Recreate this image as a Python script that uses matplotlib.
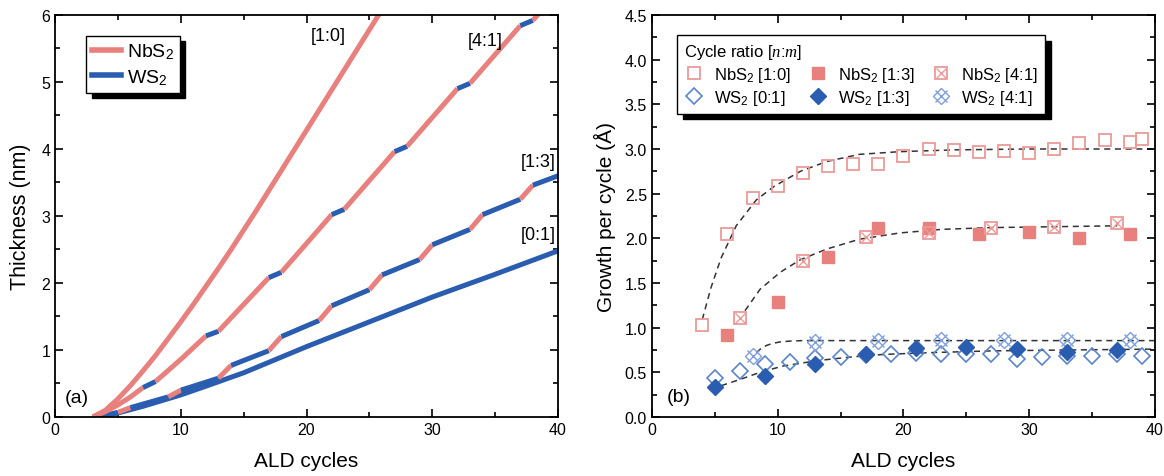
import numpy as np
import matplotlib.pyplot as plt
from matplotlib.ticker import MultipleLocator, FormatStrFormatter
from matplotlib.legend_handler import HandlerTuple
from matplotlib.lines import Line2D

plt.rcParams['font.family'] = ['Liberation Sans', 'DejaVu Sans']
plt.rcParams['mathtext.fontset'] = 'custom'
plt.rcParams['mathtext.rm'] = 'Liberation Sans'
plt.rcParams['mathtext.it'] = 'Liberation Serif:italic'

pink = '#E8807E'
blue = '#2A5CAF'
pink_lt = '#EC9A98'
blue_lt = '#5A84CC'
blue_xx = '#7E9FDA'

# ---- (a) thickness, N = NbS2 cycle, W = WS2 cycle (one letter per segment)
x_10 = [3, 4, 5, 6, 7, 8, 9, 10, 11, 12, 13, 14, 15, 16, 18, 20, 22, 24, 26]
y_10 = [0, 0.1, 0.27, 0.47, 0.69, 0.92, 1.17, 1.42, 1.68, 1.95, 2.22, 2.5, 2.79, 3.08, 3.68, 4.28, 4.88, 5.48, 6.08]
m_10 = 'N' * 18

x_41 = [3, 4, 5, 6, 7, 8, 10, 12, 13, 15, 17, 18, 22, 23, 27, 28, 32, 33, 37, 38, 39]
y_41 = [0, 0.08, 0.18, 0.3, 0.44, 0.53, 0.86, 1.21, 1.28, 1.68, 2.08, 2.16, 3.02, 3.1, 3.96, 4.04, 4.9, 4.98, 5.84, 5.92, 6.13]
m_41 = 'NNNNWNNWNNWNWNWNWNWN'

x_13 = [3.5, 5, 6, 9, 10, 13, 14, 17, 18, 21, 22, 25, 26, 29, 30, 33, 34, 37, 38, 40]
y_13 = [0, 0.07, 0.14, 0.3, 0.4, 0.58, 0.77, 0.99, 1.2, 1.44, 1.66, 1.9, 2.12, 2.35, 2.57, 2.8, 3.02, 3.25, 3.46, 3.6]
m_13 = 'WNWNWNWNWNWNWNWNWNW'

x_01 = [3.5, 5, 7, 10, 12, 15, 20, 25, 30, 35, 40]
y_01 = [0, 0.06, 0.16, 0.33, 0.46, 0.66, 1.05, 1.42, 1.79, 2.13, 2.48]
m_01 = 'W' * 10

# ---- (b) growth per cycle
nb10_x = [4, 6, 8, 10, 12, 14, 16, 18, 20, 22, 24, 26, 28, 30, 32, 34, 36, 38, 39]
nb10_y = [1.03, 2.05, 2.45, 2.59, 2.73, 2.81, 2.83, 2.83, 2.92, 3.0, 2.99, 2.97, 2.98, 2.96, 3.0, 3.07, 3.1, 3.08, 3.11]
nb13_x = [6, 10, 14, 18, 22, 26, 30, 34, 38]
nb13_y = [0.92, 1.29, 1.79, 2.11, 2.12, 2.05, 2.07, 2.0, 2.05]
nb41_x = [7, 12, 17, 22, 27, 32, 37]
nb41_y = [1.11, 1.75, 2.01, 2.06, 2.11, 2.125, 2.17]
w01_x = [5, 7, 9, 11, 13, 15, 17, 19, 21, 23, 25, 27, 29, 31, 33, 35, 37, 39]
w01_y = [0.44, 0.52, 0.59, 0.61, 0.655, 0.67, 0.69, 0.71, 0.72, 0.71, 0.70, 0.71, 0.65, 0.67, 0.68, 0.685, 0.70, 0.685]
w13_x = [5, 9, 13, 17, 21, 25, 29, 33, 37]
w13_y = [0.34, 0.46, 0.59, 0.70, 0.77, 0.78, 0.76, 0.73, 0.75]
w41_x = [8, 13, 18, 23, 28, 33, 38]
w41_y = [0.68, 0.84, 0.85, 0.86, 0.86, 0.86, 0.86]

# dashed fits
fit1_x = [4, 4.7, 5.5, 6.7, 8.3, 9.7, 11.8, 13.9, 16.5, 19.7, 24, 30, 40]
fit1_y = [1.09, 1.45, 1.78, 2.14, 2.43, 2.58, 2.75, 2.86, 2.94, 2.97, 2.99, 3.0, 3.0]
fit2_x = [7.4, 8.6, 10.2, 11.8, 13.9, 16.5, 19.7, 23, 27, 32, 37]
fit2_y = [1.19, 1.43, 1.62, 1.76, 1.88, 1.99, 2.06, 2.1, 2.12, 2.13, 2.14]
fit3_x = [8.3, 8.7, 9.1, 9.6, 10.2, 11, 12, 40]
fit3_y = [0.72, 0.77, 0.80, 0.825, 0.84, 0.85, 0.855, 0.855]
fit4_x = [5.5, 7.0, 8.6, 10.4, 13.1, 15.7, 18.4, 22, 27, 33, 40]
fit4_y = [0.35, 0.42, 0.5, 0.57, 0.63, 0.67, 0.70, 0.72, 0.74, 0.75, 0.76]


def draw_curve(ax, xs, ys, mats):
    i = 0
    while i < len(mats):
        j = i
        while j < len(mats) and mats[j] == mats[i]:
            j += 1
        c = pink if mats[i] == 'N' else blue
        ax.plot(xs[i:j + 1], ys[i:j + 1], color=c, lw=3.6,
                solid_capstyle='butt', solid_joinstyle='round')
        i = j


def style_axes(ax):
    ax.tick_params(which='both', direction='in', top=True, right=True,
                   labelsize=11.5, width=1.2)
    ax.tick_params(which='major', length=6)
    ax.tick_params(which='minor', length=3.5)
    for s in ax.spines.values():
        s.set_linewidth(1.3)
    ax.xaxis.set_major_locator(MultipleLocator(10))
    ax.xaxis.set_minor_locator(MultipleLocator(5))


fig = plt.figure(figsize=(11.64, 4.77), dpi=100)
ax1 = fig.add_axes([0.0473, 0.1237, 0.4321, 0.8428])
ax2 = fig.add_axes([0.5601, 0.1237, 0.4321, 0.8428])

# ---------- (a)
draw_curve(ax1, x_01, y_01, m_01)
draw_curve(ax1, x_13, y_13, m_13)
draw_curve(ax1, x_41, y_41, m_41)
draw_curve(ax1, x_10, y_10, m_10)
ax1.set_xlim(0, 40)
ax1.set_ylim(0, 6)
style_axes(ax1)
ax1.yaxis.set_major_locator(MultipleLocator(1))
ax1.yaxis.set_minor_locator(MultipleLocator(0.5))
ax1.set_xlabel('ALD cycles', fontsize=15, labelpad=10)
ax1.set_ylabel('Thickness (nm)', fontsize=15.5, labelpad=7)
ax1.text(0.8, 0.22, '(a)', fontsize=14)
ax1.text(23.1, 5.62, '[1:0]', fontsize=13, ha='right')
ax1.text(35.6, 5.55, '[4:1]', fontsize=13, ha='right')
ax1.text(39.8, 3.75, '[1:3]', fontsize=13, ha='right')
ax1.text(39.8, 2.65, '[0:1]', fontsize=13, ha='right')
h = [Line2D([], [], color=pink, lw=4), Line2D([], [], color=blue, lw=4)]
ax1.legend(h, ['NbS$_2$', 'WS$_2$'], loc='upper left', bbox_to_anchor=(0.062, 0.948),
           borderaxespad=0, fontsize=14, fancybox=False, edgecolor='black',
           framealpha=1, handlelength=1.5, handletextpad=0.3, labelspacing=0.3,
           borderpad=0.3, shadow={'ox': 4, 'oy': -4, 'color': 'black', 'alpha': 1})

# ---------- (b)
fk = dict(color='#333333', lw=1.1, dashes=(4, 3), zorder=1)
ax2.plot(fit1_x, fit1_y, **fk)
ax2.plot(fit2_x, fit2_y, **fk)
ax2.plot(fit3_x, fit3_y, **fk)
ax2.plot(fit4_x, fit4_y, **fk)

ms_s = 8.5
ms_d = 8.5
p1, = ax2.plot(nb10_x, nb10_y, 's', ms=ms_s, mfc='none', mec=pink_lt, mew=1.3)
p2, = ax2.plot(nb13_x, nb13_y, 's', ms=ms_s, mfc=pink, mec=pink, mew=1)
p3a, = ax2.plot(nb41_x, nb41_y, 's', ms=ms_s, mfc='none', mec=pink_lt, mew=1.3)
p3b, = ax2.plot(nb41_x, nb41_y, 'x', ms=ms_s * 0.8, mec=pink_lt, mew=1)
q1, = ax2.plot(w01_x, w01_y, 'D', ms=ms_d, mfc='none', mec=blue_lt, mew=1.2)
q3a, = ax2.plot(w41_x, w41_y, 'D', ms=ms_d, mfc='none', mec=blue_xx, mew=1)
q3b, = ax2.plot(w41_x, w41_y, 'x', ms=ms_d, mec=blue_xx, mew=1)
q2, = ax2.plot(w13_x, w13_y, 'D', ms=ms_d, mfc=blue, mec=blue, mew=1)

ax2.set_xlim(0, 40)
ax2.set_ylim(0, 4.5)
style_axes(ax2)
ax2.yaxis.set_major_locator(MultipleLocator(0.5))
ax2.yaxis.set_minor_locator(MultipleLocator(0.25))
ax2.yaxis.set_major_formatter(FormatStrFormatter('%.1f'))
ax2.set_xlabel('ALD cycles', fontsize=15, labelpad=10)
ax2.set_ylabel('Growth per cycle (Å)', fontsize=15, labelpad=6)
ax2.text(1.2, 0.18, '(b)', fontsize=14)

handles = [p1, q1, p2, q2, (p3a, p3b), (q3a, q3b)]
labels = ['NbS$_2$ [1:0]', 'WS$_2$ [0:1]', 'NbS$_2$ [1:3]', 'WS$_2$ [1:3]',
          'NbS$_2$ [4:1]', 'WS$_2$ [4:1]']
leg = ax2.legend(handles, labels, ncol=3, loc='upper left', bbox_to_anchor=(0.05, 0.95),
                 borderaxespad=0, fontsize=12, title='Cycle ratio [$n$:$m$]',
                 title_fontsize=12, alignment='left', fancybox=False,
                 edgecolor='black', framealpha=1, handlelength=1.2,
                 handletextpad=0.6, columnspacing=1.0, labelspacing=0.25,
                 borderpad=0.4, handler_map={tuple: HandlerTuple(ndivide=1, pad=0)},
                 shadow={'ox': 4, 'oy': -4, 'color': 'black', 'alpha': 1})

fig.savefig('out.png', dpi=100)
